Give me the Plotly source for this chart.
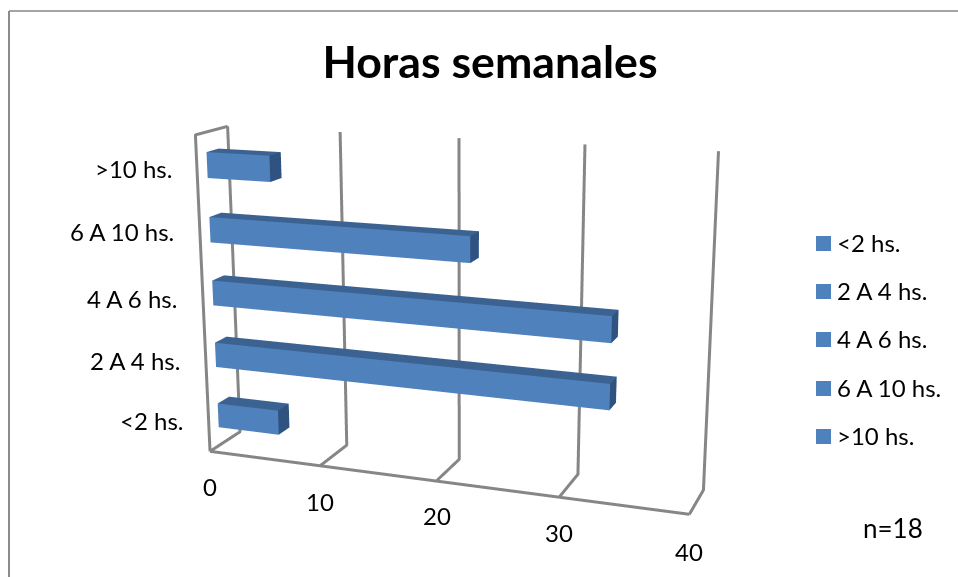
import plotly.graph_objects as go

# Survey results: share of respondents (%) for each weekly-hours band
categories = ["<2 hs.", "2 A 4 hs.", "4 A 6 hs.", "6 A 10 hs.", ">10 hs."]
values = [5.56, 33.33, 33.33, 22.22, 5.56]
ticks = [0, 10, 20, 30, 40]
title = "Horas semanales"
note = "n=18"

# Bar extents along the depth axis, and bar thickness in category units
BAR_FRONT, BAR_BACK, BAR_THICK = 0.30872, 0.68546, 0.39643
# Oblique skew of the box, giving the flat office-style 3D look
SKEW_XY, SKEW_ZX, SKEW_ZY = 1.380196, -0.011377, 0.175477

BLUE, BLUE_TOP, BLUE_SIDE = "#4F81BD", "#3C6291", "#2F5280"
GRID = "#868686"
W, H = 958, 577


def px(x, y):
    return x / W, 1 - y / H


def skew(x, y, z):
    return x + SKEW_XY * y, y, z + SKEW_ZX * x + SKEW_ZY * y


def cuboid(x1, y0, y1, z0, z1, name):
    corners = [(0, y0, z0), (x1, y0, z0), (x1, y1, z0), (0, y1, z0),
               (0, y0, z1), (x1, y0, z1), (x1, y1, z1), (0, y1, z1)]
    xs, ys, zs = zip(*[skew(*c) for c in corners])
    faces = [
        (0, 1, 5, BLUE), (0, 5, 4, BLUE),            # front
        (4, 5, 6, BLUE_TOP), (4, 6, 7, BLUE_TOP),    # top
        (1, 2, 6, BLUE_SIDE), (1, 6, 5, BLUE_SIDE),  # end cap
        (0, 3, 7, BLUE), (0, 7, 4, BLUE),            # left
        (0, 1, 2, BLUE), (0, 2, 3, BLUE),            # bottom
        (3, 2, 6, BLUE), (3, 6, 7, BLUE),            # back
    ]
    return go.Mesh3d(
        x=xs, y=ys, z=zs,
        i=[f[0] for f in faces], j=[f[1] for f in faces], k=[f[2] for f in faces],
        facecolor=[f[3] for f in faces], flatshading=True,
        lighting=dict(ambient=1, diffuse=0, specular=0, roughness=1, fresnel=0),
        hoverinfo="skip", name=name, showlegend=False,
    )


fig = go.Figure()

# Wall and floor outlines
n = len(categories)
segments = []
for t in ticks:
    segments.append([(t, 0, 0), (t, 1, 0), (t, 1, n)])
segments.append([(0, 0, 0), (40, 0, 0)])
segments.append([(0, 1, n), (0, 0, n), (0, 0, 0)])
edge_x, edge_y, edge_z = [], [], []
for seg in segments:
    for c in seg:
        sx, sy, sz = skew(*c)
        edge_x.append(sx)
        edge_y.append(sy)
        edge_z.append(sz)
    edge_x.append(None)
    edge_y.append(None)
    edge_z.append(None)
fig.add_trace(go.Scatter3d(x=edge_x, y=edge_y, z=edge_z, mode="lines",
                           line=dict(color=GRID, width=6), hoverinfo="skip", showlegend=False))

for i, (cat, val) in enumerate(zip(categories, values)):
    fig.add_trace(cuboid(val, BAR_FRONT, BAR_BACK, i + 0.5 - BAR_THICK / 2, i + 0.5 + BAR_THICK / 2, cat))

annotations = []


def label(x, y, text, anchor, size=24):
    ax, ay = px(x, y)
    annotations.append(dict(x=ax, y=ay, text=text.replace("<", "&lt;"), xanchor=anchor, yanchor="middle",
                            xref="paper", yref="paper", showarrow=False, font=dict(size=size)))


tick_px = [(210, 486), (320, 501), (437, 515), (559, 532), (689, 551)]
for t, (x, y) in zip(ticks, tick_px):
    label(x, y, str(t), "center")
cat_px = [(185, 421), (182, 360), (179, 298), (176, 232), (174, 168)]
for c, (x, y) in zip(categories, cat_px):
    label(x, y, c, "right")
label(893, 528, note, "center", 26)

shapes = []
# Legend keys and labels
legend_y = [243.5, 291.5, 339.5, 388.5, 436.5]
for c, y in zip(categories, legend_y):
    x0, y0 = px(816, y - 7.5)
    x1, y1 = px(831, y + 7.5)
    shapes.append(dict(type="rect", xref="paper", yref="paper", x0=x0, x1=x1, y0=y0, y1=y1,
                       fillcolor=BLUE, line=dict(width=0), layer="above"))
    label(835, y - 1.5, c, "left")

# Chart-area border (left and top edges)
fx, _ = px(9, 0)
_, fy = px(0, 11)
shapes.append(dict(type="line", xref="paper", yref="paper", x0=fx, x1=fx, y0=0, y1=fy, layer="above",
                   line=dict(color="#8c8c8c", width=2)))
shapes.append(dict(type="line", xref="paper", yref="paper", x0=fx, x1=1, y0=fy, y1=fy, layer="above",
                   line=dict(color="#868686", width=1.5)))

tx, ty = px(490, 62)
fig.update_layout(
    width=W, height=H, margin=dict(l=0, r=0, t=0, b=0),
    paper_bgcolor="white",
    showlegend=False,
    font=dict(family="Lato, Carlito, sans-serif", color="black"),
    title=dict(text="<b>" + title + "</b>", x=tx, y=ty, xanchor="center", yanchor="middle",
               font=dict(size=44.7, family="Lato, sans-serif", color="black")),
    annotations=annotations,
    shapes=shapes,
    scene=dict(
        domain=dict(x=[0, 1], y=[0, 1]),
        aspectmode="manual",
        aspectratio=dict(x=4.5, y=0.299133, z=3.011961),
        camera=dict(
            eye=dict(x=0.471233, y=-2.043617, z=0.300227),
            center=dict(x=0.117556, y=0.028979, z=0.039789),
            up=dict(x=-0.023603, y=0.120676, z=0.992411),
        ),
        xaxis=dict(range=[-40, 80], visible=False),
        yaxis=dict(range=[-1, 2], visible=False),
        zaxis=dict(range=[-5, 10], visible=False),
    ),
)
fig.write_html("out.html", config=dict(displayModeBar=False))
